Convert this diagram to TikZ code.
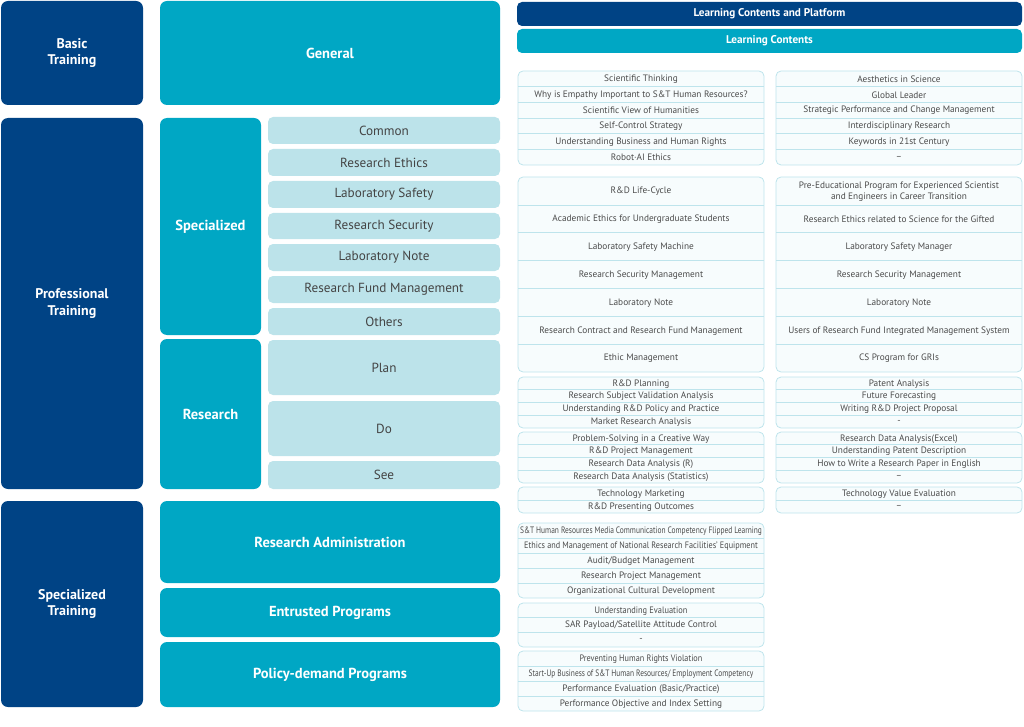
\documentclass[tikz,border=0pt]{standalone}
\usepackage{fontspec}
\usepackage{graphicx}
\setmainfont{PT Sans}
\definecolor{dblue}{RGB}{0,67,133}
\definecolor{teal}{RGB}{0,167,196}
\definecolor{light}{RGB}{188,227,234}
\definecolor{tblline}{RGB}{190,228,236}
\definecolor{tblfill}{RGB}{247,252,253}
\definecolor{itemtxt}{RGB}{68,68,68}
\definecolor{rowtxt}{RGB}{75,75,75}
\tikzset{
  base/.style={inner sep=0pt, outer sep=0pt, align=center},
  darkbox/.style={base, fill=dblue, rounded corners=7pt, text=white, font=\fontsize{14}{16.5}\selectfont\bfseries},
  tealbox/.style={base, fill=teal, rounded corners=7pt, text=white, font=\fontsize{14.5}{17}\selectfont\bfseries},
  itembox/.style={base, fill=light, rounded corners=5pt, text=itemtxt, font=\fontsize{13.2}{15}\selectfont},
  headdark/.style={base, fill=dblue, rounded corners=5pt, text=white, font=\fontsize{11.2}{13}\selectfont\bfseries},
  headteal/.style={base, fill=teal, rounded corners=5pt, text=white, font=\fontsize{11.2}{13}\selectfont\bfseries},
  tblframe/.style={base, draw=tblline, line width=0.8pt, fill=tblfill, rounded corners=5pt},
  rowtext/.style={base, text=rowtxt, font=\fontsize{9.3}{10.5}\selectfont},
  sepline/.style={draw=tblline, line width=0.6pt},
}
% \bx{name}{x1}{y1}{x2}{y2}{style}{text}
\newcommand\bx[7]{%
  \node[#6, minimum width={(#4-#2)*1pt}, minimum height={(#5-#3)*1pt}] (#1) at ({(#2+#4)/2},{(#3+#5)/2}) {#7};}
% \tbl{name}{x1}{x2}{ytop}{ybot}{nrows}{rows}
\newcommand\tbl[7]{%
  \node[tblframe, minimum width={(#3-#2)*1pt}, minimum height={(#5-#4)*1pt}] (#1) at ({(#2+#3)/2},{(#4+#5)/2}) {};
  \pgfmathsetmacro\rh{(#5-#4)/#6}
  \foreach \t [count=\i] in {#7} {
    \node[rowtext] (#1-\i) at ({(#2+#3)/2},{#4+(\i-0.5)*\rh+0.5}) {\t};
    \ifnum\i<#6 \draw[sepline] ({#2+0.4},{#4+\i*\rh}) -- ({#3-0.4},{#4+\i*\rh}); \fi
  }}
\newcommand\sq[2]{\scalebox{#1}[1]{#2}}
\begin{document}
\begin{tikzpicture}[x=1pt,y=-1pt]
\useasboundingbox (0,0) rectangle (1024,727);
% left column
\bx{basic}{1}{1}{143}{105}{darkbox}{Basic\\Training}
\bx{general}{160}{1}{500}{105}{tealbox}{General}
\bx{prof}{1}{118}{143}{489}{darkbox}{Professional\\Training}
\bx{spec}{160}{118}{261}{335}{tealbox}{Specialized}
\bx{common}{268}{117}{500}{144}{itembox}{Common}
\bx{rethics}{268}{149}{500}{176}{itembox}{Research Ethics}
\bx{labsafe}{268}{181}{500}{208}{itembox}{Laboratory Safety}
\bx{rsec}{268}{213}{500}{239}{itembox}{Research Security}
\bx{labnote}{268}{244}{500}{271}{itembox}{Laboratory Note}
\bx{rfm}{268}{276}{500}{303}{itembox}{Research Fund Management}
\bx{others}{268}{308}{500}{335}{itembox}{Others}
\bx{research}{160}{339}{261}{489}{tealbox}{Research}
\bx{plan}{268}{340}{500}{395}{itembox}{Plan}
\bx{do}{268}{401}{500}{456}{itembox}{Do}
\bx{see}{268}{461}{500}{489}{itembox}{See}
\bx{spectr}{1}{501}{143}{707}{darkbox}{Specialized\\Training}
\bx{radmin}{160}{501}{500}{583}{tealbox}{Research Administration}
\bx{entr}{160}{588}{500}{637}{tealbox}{Entrusted Programs}
\bx{policy}{160}{642}{500}{707}{tealbox}{Policy-demand Programs}
% headers
\bx{lcp}{517}{2}{1022}{26}{headdark}{Learning Contents and Platform}
\bx{lc}{517}{29}{1022}{53}{headteal}{Learning Contents}
% tables
\tbl{t1l}{518}{764}{71}{165}{6}{Scientific Thinking,Why is Empathy Important to S\&T Human Resources?,Scientific View of Humanities,Self-Control Strategy,Understanding Business and Human Rights,Robot·AI Ethics}
\tbl{t1r}{776}{1022}{71}{165}{6}{Aesthetics in Science,Global Leader,Strategic Performance and Change Management,Interdisciplinary Research,Keywords in 21st Century,--}
\tbl{t2l}{518}{764}{177}{372}{7}{R\&D Life-Cycle,Academic Ethics for Undergraduate Students,Laboratory Safety Machine,Research Security Management,Laboratory Note,Research Contract and Research Fund Management,Ethic Management}
\tbl{t2r}{776}{1022}{177}{372}{7}{{Pre-Educational Program for Experienced Scientist\\and Engineers in Career Transition},Research Ethics related to Science for the Gifted,Laboratory Safety Manager,Research Security Management,Laboratory Note,Users of Research Fund Integrated Management System,CS Program for GRIs}
\tbl{t3l}{518}{764}{377}{428}{4}{R\&D Planning,Research Subject Validation Analysis,Understanding R\&D Policy and Practice,Market Research Analysis}
\tbl{t3r}{776}{1022}{377}{428}{4}{Patent Analysis,Future Forecasting,Writing R\&D Project Proposal,-}
\tbl{t4l}{518}{764}{432}{483}{4}{Problem-Solving in a Creative Way,R\&D Project Management,Research Data Analysis (R),Research Data Analysis (Statistics)}
\tbl{t4r}{776}{1022}{432}{483}{4}{Research Data Analysis(Excel),Understanding Patent Description,How to Write a Research Paper in English,--}
\tbl{t5l}{518}{764}{487}{513}{2}{Technology Marketing,R\&D Presenting Outcomes}
\tbl{t5r}{776}{1022}{487}{513}{2}{Technology Value Evaluation,--}
\tbl{t6}{518}{764}{523}{598}{5}{\sq{0.8}{S\&T Human Resources Media Communication Competency Flipped Learning},\sq{0.88}{Ethics and Management of National Research Facilities’ Equipment},Audit/Budget Management,Research Project Management,Organizational Cultural Development}
\tbl{t7}{518}{764}{603}{647}{3}{\sq{0.9}{Understanding Evaluation},SAR Payload/Satellite Attitude Control,-}
\tbl{t8}{518}{764}{651}{711}{4}{\sq{0.88}{Preventing Human Rights Violation},\sq{0.8}{Start-Up Business of S\&T Human Resources/ Employment Competency},Performance Evaluation (Basic/Practice),Performance Objective and Index Setting}
\end{tikzpicture}
\end{document}
